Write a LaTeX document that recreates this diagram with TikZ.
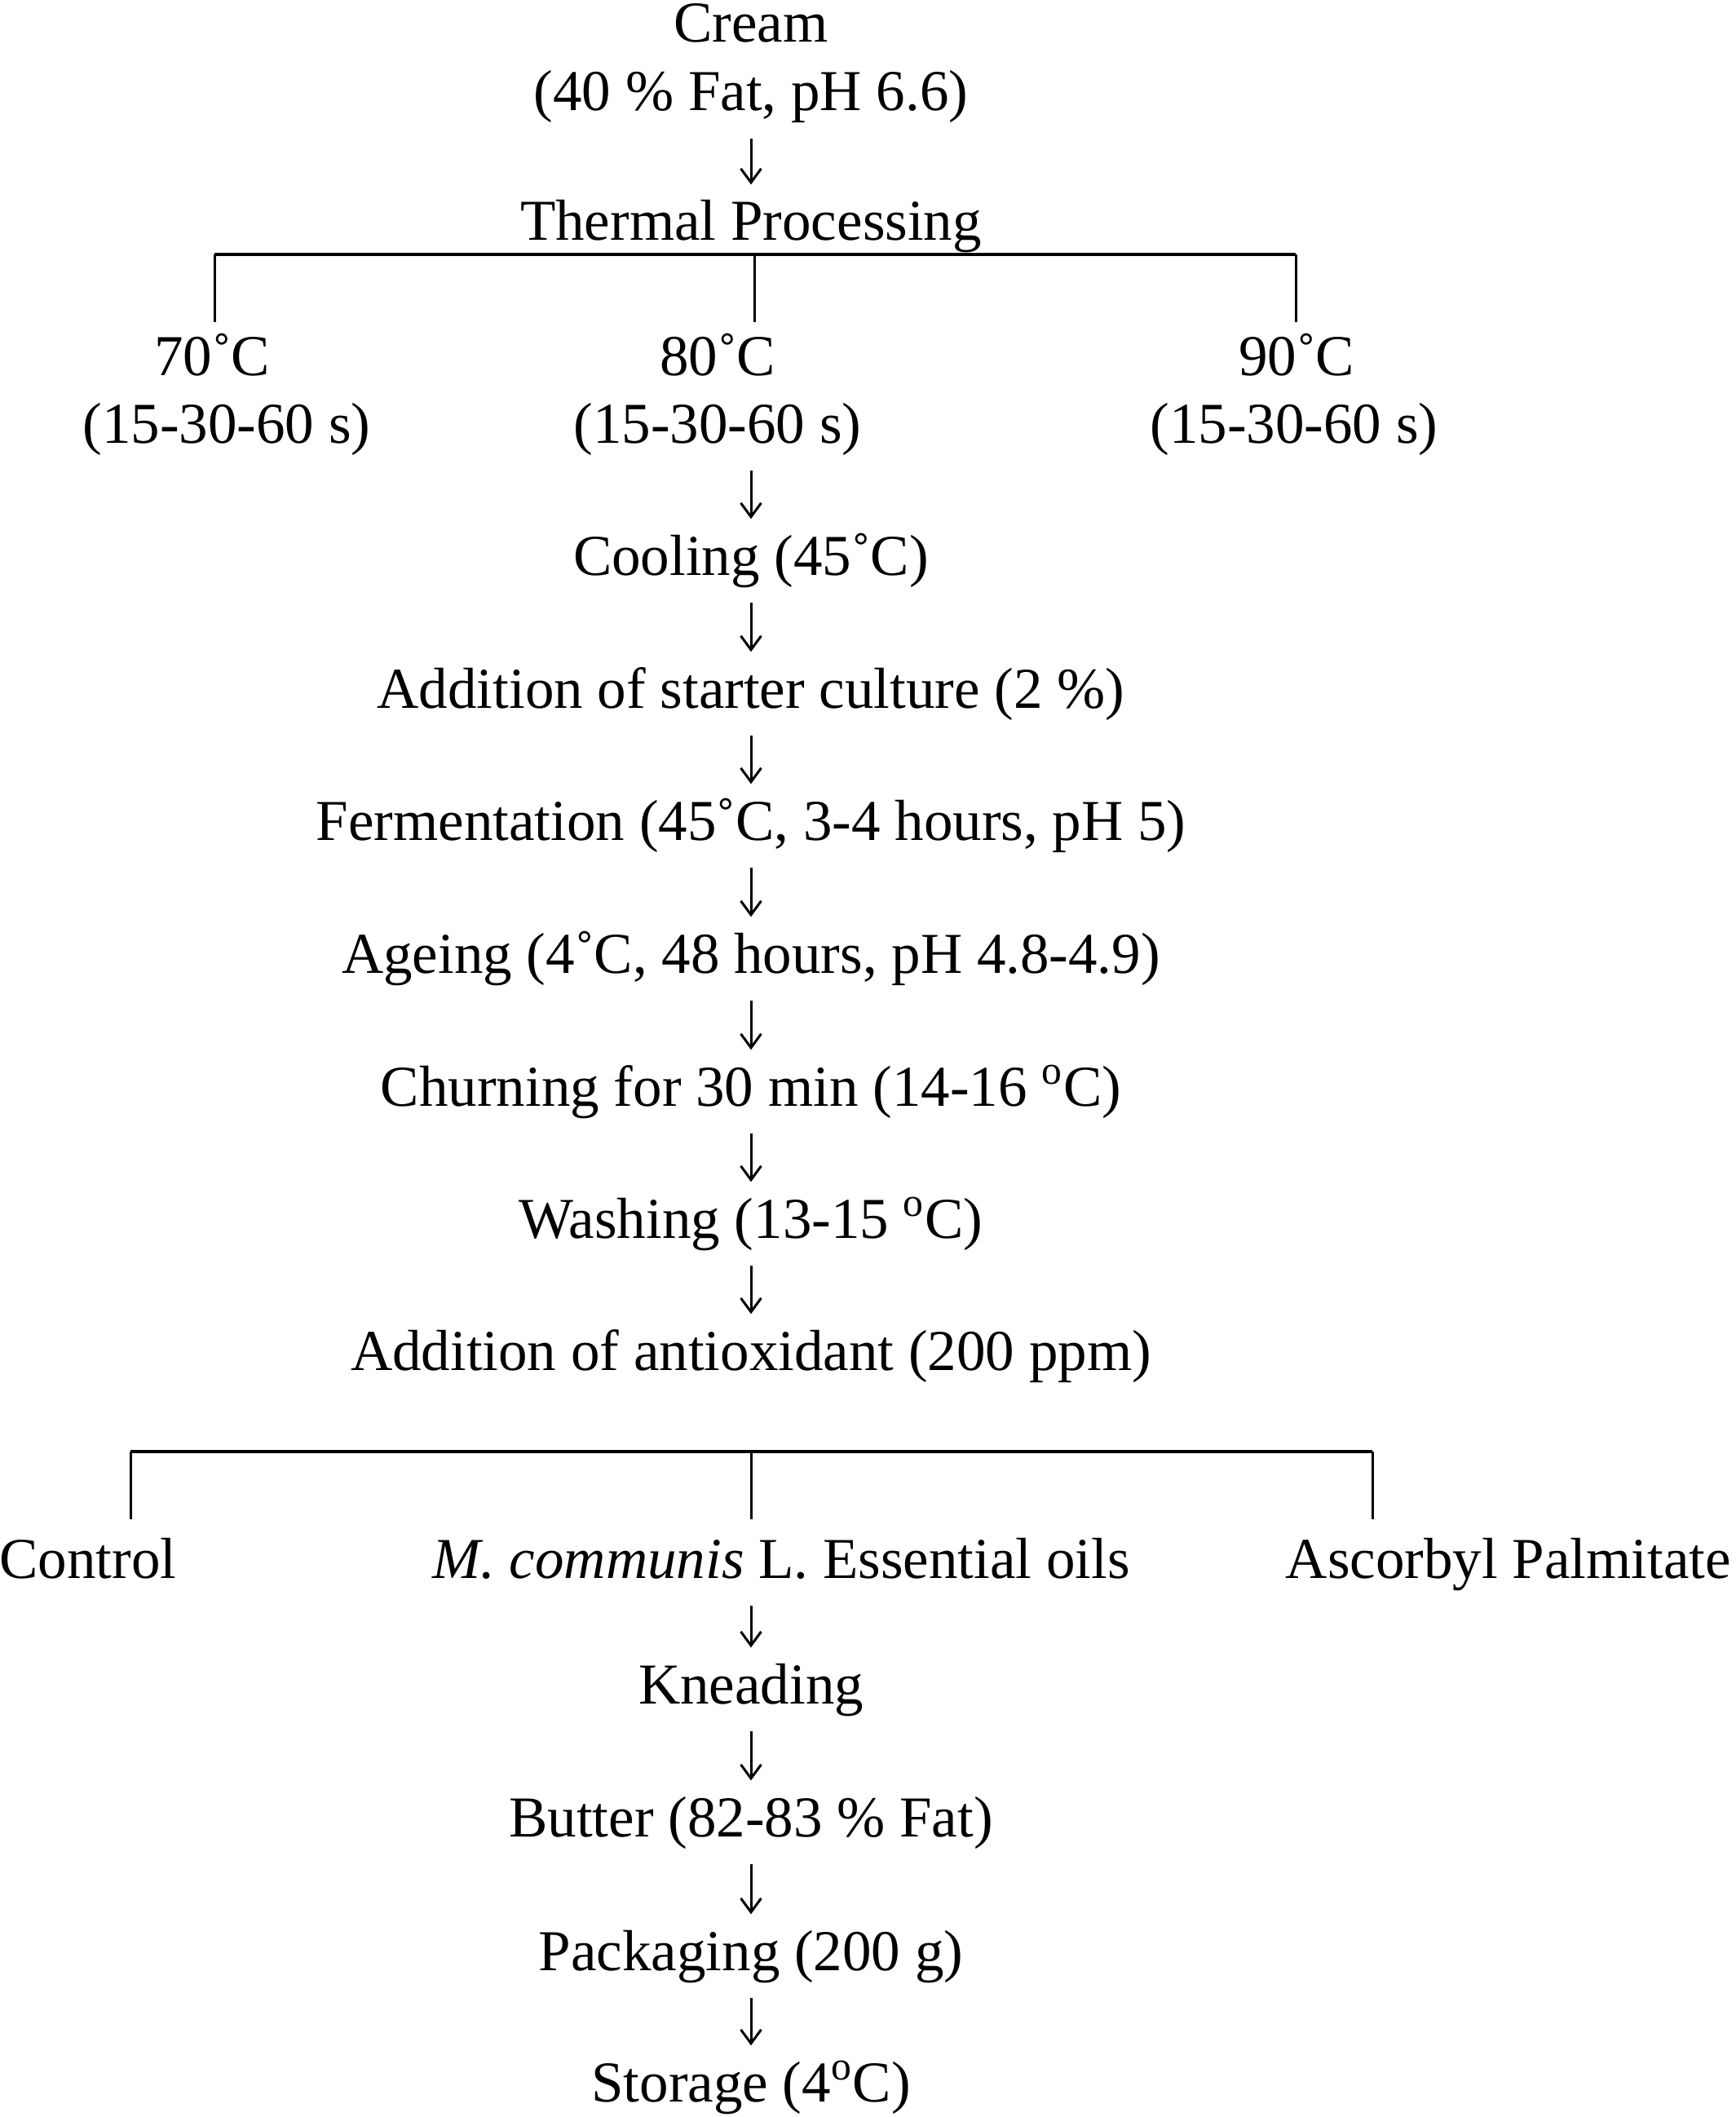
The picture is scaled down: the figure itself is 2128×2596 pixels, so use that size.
\documentclass[tikz,border=0pt]{standalone}
\usepackage{fontspec}
\setmainfont{Liberation Serif}
\usetikzlibrary{arrows.meta,calc,positioning}

\begin{document}
\begin{tikzpicture}[x=0.1mm,y=-0.1mm,
    stage/.style={inner sep=0pt, anchor=base, text height=4.6mm, text depth=0pt,
      font=\fontsize{20.2}{24}\selectfont},
    flow/.style={line width=0.3mm, -{Straight Barb[length=1.7mm,width=2.5mm]},
      shorten <=3.3mm, shorten >=2.2mm},
    branch/.style={line width=0.3mm}]
  \useasboundingbox (0,0) rectangle (2128,2596);

  % raw material
  \node[stage] (cream) at (921,52) {Cream};
  \node[stage] (creamfat) at (921,136) {(40 \% Fat, pH 6.6)};
  \node[stage] (thermal) at (921,295) {Thermal Processing};
  \draw[flow] (creamfat.south) -- (thermal.north);

  % heat treatments
  \node[stage] (t70) at (260,461) {70˚C};
  \node[stage] (t80) at (880,461) {80˚C};
  \node[stage] (t90) at (1590,461) {90˚C};
  \node[stage] (s70) at (278,543) {(15-30-60 s)};
  \node[stage] (s80) at (880,543) {(15-30-60 s)};
  \node[stage] (s90) at (1587,543) {(15-30-60 s)};
  \coordinate (hl) at (263,312);
  \coordinate (hm) at (925,312);
  \coordinate (hr) at (1589,312);
  \draw[branch, line width=0.35mm] (hl) -- (hr);
  \foreach \c/\n in {hl/t70, hm/t80, hr/t90}
    \draw[branch, shorten >=1.9mm] (\c) -- (\c |- \n.north);

  % main line
  \node[stage] (cool) at (921,705) {Cooling (45˚C)};
  \node[stage] (starter) at (921,868) {Addition of starter culture (2 \%)};
  \node[stage] (ferm) at (921,1030) {Fermentation (45˚C, 3-4 hours, pH 5)};
  \node[stage] (age) at (921,1193) {Ageing (4˚C, 48 hours, pH 4.8-4.9)};
  \node[stage] (churn) at (921,1356) {Churning for 30 min (14-16 \textsuperscript{o}C)};
  \node[stage] (wash) at (921,1518) {Washing (13-15 \textsuperscript{o}C)};
  \node[stage] (antiox) at (921,1680) {Addition of antioxidant (200 ppm)};
  \draw[flow] (cool.north |- s80.south) -- (cool.north);
  \foreach \a/\b in {cool/starter, starter/ferm, ferm/age, age/churn, churn/wash, wash/antiox}
    \draw[flow] (\a.south) -- (\b.north);

  % antioxidant treatments
  \node[stage] (ctrl) at (108,1935) {Control};
  \node[stage] (oil) at (958,1935) {\textit{M. communis} L. Essential oils};
  \node[stage] (ascp) at (1850,1935) {Ascorbyl Palmitate};
  \coordinate (bl) at (160,1780);
  \coordinate (bm) at (921,1780);
  \coordinate (br) at (1683,1780);
  \draw[branch, line width=0.35mm] (bl) -- (br);
  \foreach \c/\n in {bl/ctrl, bm/oil, br/ascp}
    \draw[branch, shorten >=2.5mm] (\c) -- (\c |- \n.north);

  % product
  \node[stage] (knead) at (921,2089) {Kneading};
  \node[stage] (butter) at (921,2252) {Butter (82-83 \% Fat)};
  \node[stage] (pack) at (921,2416) {Packaging (200 g)};
  \node[stage] (store) at (921,2577) {Storage (4\textsuperscript{o}C)};
  \draw[flow] (knead.north |- oil.south) -- (knead.north);
  \foreach \a/\b in {knead/butter, butter/pack, pack/store}
    \draw[flow] (\a.south) -- (\b.north);
\end{tikzpicture}
\end{document}
